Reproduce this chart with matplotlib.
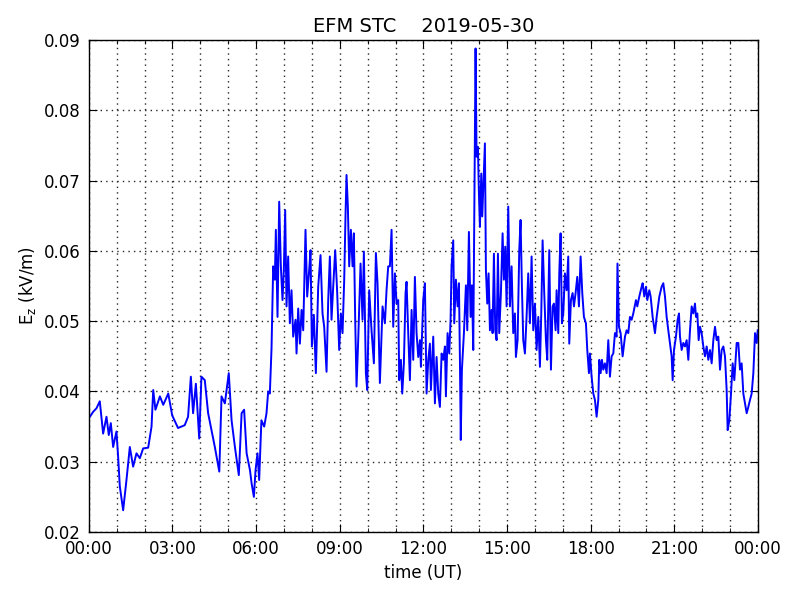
"""
EFM STC vertical electric field, 2019-05-30 (values read off the daily plot).
"""

import matplotlib
matplotlib.use("Agg")
import matplotlib.pyplot as plt
import matplotlib.ticker as ticker

matplotlib.rcParams.update({
    "font.family": "DejaVu Sans",
    "font.size": 12,
    "xtick.direction": "in",
    "ytick.direction": "in",
    "xtick.top": True,
    "ytick.right": True,
    "xtick.major.size": 6,
    "ytick.major.size": 6,
    "xtick.minor.size": 3,
    "xtick.major.pad": 6,
    "ytick.major.pad": 6,
})

TITLE = "EFM STC    2019-05-30"

# time in hours UT
hours = [
    0.00, 0.04, 0.155, 0.275, 0.394, 0.514, 0.634, 0.717, 0.789, 0.873,
    0.992, 1.052, 1.112, 1.232, 1.351, 1.471, 1.59, 1.71, 1.83, 1.95,
    2.13, 2.25, 2.31, 2.39, 2.55, 2.67, 2.85, 2.99, 3.2, 3.44,
    3.56, 3.66, 3.74, 3.84, 3.96, 4.04, 4.16, 4.28, 4.4, 4.52,
    4.68, 4.76, 4.88, 5.02, 5.12, 5.24, 5.38, 5.48, 5.57, 5.66,
    5.78, 5.84, 5.92, 5.98, 6.05, 6.11, 6.19, 6.29,
    6.373, 6.433, 6.493, 6.553, 6.613, 6.672, 6.708, 6.768, 6.828, 6.888,
    6.947, 6.995, 7.043, 7.091, 7.15, 7.21, 7.27, 7.33, 7.414, 7.45,
    7.51, 7.57, 7.63, 7.69, 7.772, 7.832, 7.904, 7.952, 8.0, 8.071,
    8.143, 8.227, 8.31, 8.382, 8.442, 8.526, 8.586, 8.645, 8.705, 8.765,
    8.837, 8.909, 8.98, 9.04, 9.1, 9.16, 9.208, 9.243, 9.291, 9.339,
    9.399, 9.459, 9.506, 9.554, 9.602, 9.662, 9.746, 9.817, 9.865, 9.937,
    9.985, 10.056, 10.14, 10.224, 10.296, 10.355, 10.439, 10.535, 10.619, 10.678,
    10.738, 10.798, 10.858, 10.918, 10.978, 11.038, 11.097, 11.133, 11.193, 11.241,
    11.3, 11.36, 11.396, 11.456, 11.516, 11.576, 11.636, 11.695, 11.755, 11.815,
    11.875, 11.911, 11.994, 12.054, 12.114, 12.174, 12.233, 12.269, 12.353, 12.413,
    12.473, 12.532, 12.592, 12.652, 12.712, 12.772, 12.807, 12.867, 12.927, 12.975,
    13.01, 13.07, 13.106, 13.166, 13.226, 13.274, 13.31, 13.34, 13.38, 13.453,
    13.525, 13.573, 13.632, 13.692, 13.74, 13.788, 13.836, 13.871, 13.907, 13.955,
    13.991, 14.027, 14.075, 14.11, 14.158, 14.206, 14.242, 14.29, 14.338, 14.386,
    14.445, 14.481, 14.529, 14.577, 14.625, 14.673, 14.72, 14.78, 14.84, 14.888,
    14.936, 14.984, 15.043, 15.103, 15.163, 15.222, 15.282, 15.318, 15.378, 15.438,
    15.485, 15.533, 15.581, 15.641, 15.7, 15.76, 15.82, 15.88, 15.94, 16.0,
    16.06, 16.12, 16.179, 16.227, 16.275, 16.334, 16.394, 16.442, 16.514, 16.574,
    16.633, 16.681, 16.741, 16.777, 16.837, 16.873, 16.92, 16.968, 17.016, 17.076,
    17.136, 17.195, 17.231, 17.291, 17.351, 17.399, 17.458, 17.518, 17.578, 17.638,
    17.698, 17.757, 17.829, 17.877, 17.937, 17.973, 18.033, 18.093, 18.152, 18.212,
    18.272, 18.308, 18.356, 18.403, 18.451, 18.511, 18.571, 18.631, 18.69, 18.75,
    18.81, 18.87, 18.93, 18.96, 19.014, 19.073, 19.145, 19.229, 19.289, 19.348,
    19.408, 19.468, 19.528, 19.623, 19.671, 19.743, 19.827, 19.863, 19.922, 19.982,
    20.03, 20.102, 20.15, 20.221, 20.305, 20.365, 20.461, 20.544, 20.604, 20.664,
    20.724, 20.783, 20.843, 20.903, 20.939, 20.987, 21.058, 21.118, 21.166, 21.202,
    21.262, 21.322, 21.381, 21.441, 21.501, 21.561, 21.621, 21.68, 21.74, 21.776,
    21.824, 21.872, 21.919, 21.979, 22.039, 22.099, 22.159, 22.218, 22.278, 22.338,
    22.398, 22.458, 22.517, 22.577, 22.637, 22.697, 22.757, 22.816, 22.876, 22.912,
    22.972, 23.032, 23.091, 23.151, 23.235, 23.295, 23.354, 23.414, 23.474, 23.534,
    23.594, 23.653, 23.713, 23.773, 23.833, 23.893, 23.952, 23.99,
]

# Ez in kV/m
ez = [
    0.0362, 0.0364, 0.0371, 0.0376, 0.0386, 0.0340, 0.0364, 0.0338, 0.0355, 0.0321,
    0.0343, 0.0307, 0.0265, 0.0231, 0.0274, 0.0321, 0.0293, 0.0312, 0.0305, 0.0319,
    0.0320, 0.0350, 0.0402, 0.0374, 0.0393, 0.0381, 0.0397, 0.0366, 0.0348, 0.0352,
    0.0364, 0.0421, 0.0369, 0.0411, 0.0333, 0.0421, 0.0416, 0.0369, 0.0345, 0.0321,
    0.0286, 0.0393, 0.0383, 0.0426, 0.0359, 0.0321, 0.0281, 0.0369, 0.0374, 0.0312,
    0.0288, 0.0269, 0.0250, 0.0288, 0.0312, 0.0274, 0.0359, 0.0350,
    0.0369, 0.0400, 0.0397, 0.0461, 0.0578, 0.0559, 0.0630, 0.0506, 0.0670, 0.0578,
    0.0530, 0.0573, 0.0658, 0.0521, 0.0592, 0.0497, 0.0544, 0.0478, 0.0502, 0.0454,
    0.0518, 0.0468, 0.0516, 0.0487, 0.0630, 0.0535, 0.0573, 0.0601, 0.0464, 0.0509,
    0.0426, 0.0549, 0.0594, 0.0511, 0.0492, 0.0428, 0.0530, 0.0592, 0.0502, 0.0549,
    0.0601, 0.0540, 0.0459, 0.0511, 0.0483, 0.0559, 0.0653, 0.0708, 0.0663, 0.0578,
    0.0630, 0.0578, 0.0625, 0.0502, 0.0407, 0.0473, 0.0582, 0.0502, 0.0599, 0.0426,
    0.0402, 0.0544, 0.0487, 0.0440, 0.0597, 0.0554, 0.0412, 0.0521, 0.0497, 0.0544,
    0.0578, 0.0578, 0.0630, 0.0492, 0.0568, 0.0525, 0.0530, 0.0416, 0.0445, 0.0397,
    0.0440, 0.0540, 0.0556, 0.0483, 0.0416, 0.0516, 0.0445, 0.0563, 0.0483, 0.0449,
    0.0473, 0.0435, 0.0530, 0.0554, 0.0397, 0.0445, 0.0468, 0.0402, 0.0478, 0.0383,
    0.0449, 0.0397, 0.0378, 0.0454, 0.0445, 0.0464, 0.0393, 0.0483, 0.0454, 0.0502,
    0.0578, 0.0615, 0.0497, 0.0559, 0.0521, 0.0554, 0.0445, 0.0331, 0.0430, 0.0483,
    0.0551, 0.0487, 0.0627, 0.0506, 0.0551, 0.0459, 0.0710, 0.0888, 0.0734, 0.0748,
    0.0682, 0.0634, 0.0710, 0.0649, 0.0701, 0.0753, 0.0573, 0.0525, 0.0568, 0.0487,
    0.0516, 0.0483, 0.0596, 0.0487, 0.0473, 0.0596, 0.0483, 0.0540, 0.0625, 0.0559,
    0.0606, 0.0521, 0.0663, 0.0521, 0.0578, 0.0483, 0.0511, 0.0449, 0.0473, 0.0601,
    0.0644, 0.0549, 0.0473, 0.0454, 0.0506, 0.0568, 0.0497, 0.0592, 0.0487, 0.0525,
    0.0459, 0.0506, 0.0435, 0.0511, 0.0615, 0.0540, 0.0473, 0.0445, 0.0601, 0.0431,
    0.0521, 0.0525, 0.0487, 0.0544, 0.0483, 0.0568, 0.0625, 0.0497, 0.0511, 0.0568,
    0.0544, 0.0592, 0.0468, 0.0530, 0.0540, 0.0521, 0.0540, 0.0563, 0.0521, 0.0592,
    0.0540, 0.0506, 0.0497, 0.0459, 0.0426, 0.0454, 0.0421, 0.0397, 0.0388, 0.0364,
    0.0388, 0.0445, 0.0426, 0.0445, 0.0431, 0.0440, 0.0426, 0.0473, 0.0421, 0.0450,
    0.0454, 0.0483, 0.0478, 0.0582, 0.0492, 0.0483, 0.0450, 0.0478, 0.0487, 0.0483,
    0.0506, 0.0502, 0.0511, 0.0530, 0.0521, 0.0535, 0.0549, 0.0554, 0.0535, 0.0549,
    0.0530, 0.0544, 0.0535, 0.0506, 0.0483, 0.0506, 0.0535, 0.0549, 0.0554, 0.0535,
    0.0506, 0.0487, 0.0469, 0.0450, 0.0416, 0.0459, 0.0478, 0.0502, 0.0511, 0.0478,
    0.0459, 0.0469, 0.0464, 0.0473, 0.0445, 0.0487, 0.0521, 0.0511, 0.0525, 0.0506,
    0.0511, 0.0473, 0.0492, 0.0483, 0.0464, 0.0450, 0.0464, 0.0445, 0.0459, 0.0440,
    0.0473, 0.0492, 0.0473, 0.0478, 0.0431, 0.0459, 0.0464, 0.0450, 0.0402, 0.0345,
    0.0359, 0.0397, 0.0440, 0.0416, 0.0469, 0.0469, 0.0431, 0.0440, 0.0397, 0.0383,
    0.0369, 0.0378, 0.0388, 0.0397, 0.0426, 0.0483, 0.0469, 0.0487,
]

XTICKS = list(range(0, 25, 3))
XTICK_LABELS = [f"{h % 24:02d}:00" for h in XTICKS]


def main():
    fig = plt.figure(figsize=(8, 6), dpi=100, facecolor="white")
    ax = fig.add_axes([0.111, 0.1133, 0.8365, 0.82])

    ax.plot(hours, ez, color="#0000ff", linewidth=1.4)

    ax.set_xlim(0, 24)
    ax.set_ylim(0.02, 0.09)
    ax.set_xticks(XTICKS)
    ax.set_xticklabels(XTICK_LABELS)
    ax.xaxis.set_minor_locator(ticker.MultipleLocator(1))
    ax.yaxis.set_major_locator(ticker.MultipleLocator(0.01))
    ax.yaxis.set_major_formatter(ticker.FormatStrFormatter("%.2f"))

    grid_kw = dict(color="0.15", linestyle=(0, (1, 3)), linewidth=1.0)
    ax.grid(True, which="major", **grid_kw)
    ax.grid(True, which="minor", axis="x", **grid_kw)
    for s in ax.spines.values():
        s.set_linewidth(1.0)

    ax.set_title(TITLE, fontsize=14)
    ax.set_xlabel("time (UT)")
    ax.set_ylabel(r"E$_\mathrm{z}$ (kV/m)")

    fig.savefig("out.png", dpi=100, facecolor="white")
    plt.close(fig)


if __name__ == "__main__":
    main()
